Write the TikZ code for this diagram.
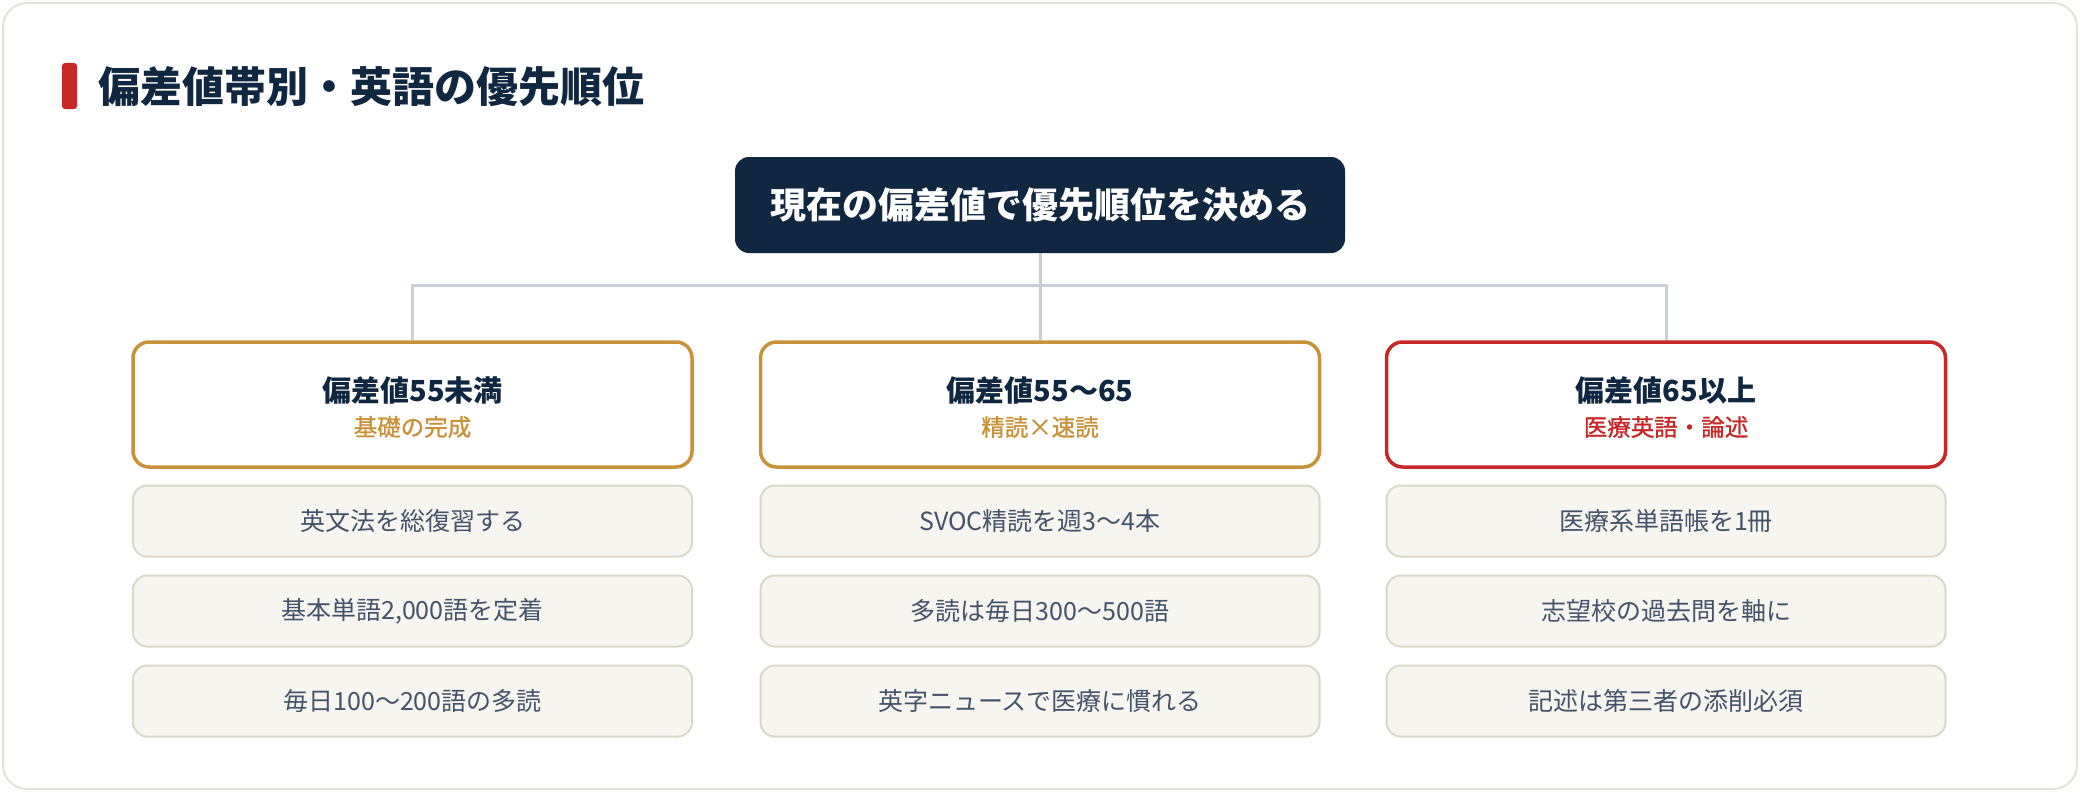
\documentclass[tikz,border=0pt]{standalone}
\usepackage{fontspec}
\setmainfont{Noto Sans CJK JP}
\newfontfamily\medfont{Noto Sans CJK JP}[FakeBold=1.2]
\usetikzlibrary{backgrounds}
\definecolor{navy}{HTML}{0F2740}
\definecolor{gold}{HTML}{C8923A}
\definecolor{redc}{HTML}{C62828}
\definecolor{itemfill}{HTML}{F6F5F0}
\definecolor{itemline}{HTML}{DCD8C8}
\definecolor{itemtext}{HTML}{44536A}
\definecolor{conn}{HTML}{C8CFD9}
\definecolor{cardline}{HTML}{E6E3D5}
\tikzset{
  lvlbox/.style={draw=#1, line width=3.5pt, rounded corners=16pt, fill=white,
    minimum width=559pt, minimum height=125pt, inner sep=0pt},
  itembox/.style={draw=itemline, line width=2pt, fill=itemfill, rounded corners=14pt,
    minimum width=559pt, minimum height=71pt, inner sep=0pt, text=itemtext,
    font=\fontsize{25}{30}\selectfont},
  headtxt/.style={inner sep=0pt, text=navy, font=\bfseries\fontsize{29}{34}\selectfont},
  subtxt/.style={inner sep=0pt, text=#1, font=\medfont\fontsize{23.5}{28}\selectfont},
  connline/.style={draw=conn, line width=3pt}
}
\begin{document}
\begin{tikzpicture}[x=1pt,y=-1pt]
\useasboundingbox (0,0) rectangle (2080,792);
% title
\fill[redc, rounded corners=3pt] (62,63) rectangle (77,109);
\node[anchor=west, inner sep=0pt, text=navy, font=\bfseries\fontsize{42}{50}\selectfont] (title) at (98,87) {偏差値帯別・英語の優先順位};
% root
\node[fill=navy, rounded corners=14pt, minimum width=610pt, minimum height=96pt, inner sep=0pt,
  text=white, font=\bfseries\fontsize{36}{42}\selectfont] (root) at (1040,205) {現在の偏差値で優先順位を決める};
% level boxes
\node[lvlbox=gold] (l1) at (412.5,404.5) {};
\node[lvlbox=gold] (l2) at (1040,404.5) {};
\node[lvlbox=redc] (l3) at (1666,404.5) {};
% headings
\node[headtxt] (h1) at ([yshift=14.5pt]l1.center) {偏差値55未満};
\node[subtxt=gold] (s1) at ([yshift=-22.5pt]l1.center) {基礎の完成};
\node[headtxt] (h2) at ([yshift=14.5pt]l2.center) {偏差値55〜65};
\node[subtxt=gold] (s2) at ([yshift=-22.5pt]l2.center) {精読×速読};
\node[headtxt] (h3) at ([yshift=14.5pt]l3.center) {偏差値65以上};
\node[subtxt=redc] (s3) at ([yshift=-22.5pt]l3.center) {医療英語・論述};
% items
\node[itembox] (a1) at (412.5,521) {英文法を総復習する};
\node[itembox] (a2) at (412.5,611) {基本単語2,000語を定着};
\node[itembox] (a3) at (412.5,701) {毎日100〜200語の多読};
\node[itembox] (b1) at (1040,521) {SVOC精読を週3〜4本};
\node[itembox] (b2) at (1040,611) {多読は毎日300〜500語};
\node[itembox] (b3) at (1040,701) {英字ニュースで医療に慣れる};
\node[itembox] (c1) at (1666,521) {医療系単語帳を1冊};
\node[itembox] (c2) at (1666,611) {志望校の過去問を軸に};
\node[itembox] (c3) at (1666,701) {記述は第三者の添削必須};
\begin{pgfonlayer}{background}
\draw[cardline, line width=2pt, fill=white, rounded corners=24pt] (3,3) rectangle (2077,789);
\coordinate (j) at (1040,285);
\draw[connline] (root.south) -- (j);
\draw[connline] (l1.north) |- (j) -| (l3.north);
\draw[connline] (j) -- (l2.north);
\end{pgfonlayer}
\end{tikzpicture}
\end{document}
